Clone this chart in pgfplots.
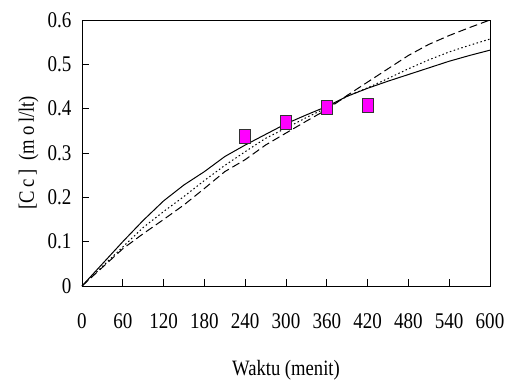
\documentclass[border=0pt]{standalone}
\usepackage{pgfplots}
\pgfplotsset{compat=1.18}
\usepackage{fontspec}
\setmainfont{Liberation Serif}[FakeStretch=0.85]
\definecolor{mag}{RGB}{255,0,255}
\begin{document}
\begin{tikzpicture}
\path[use as bounding box] (-82bp,-95bp) rectangle (430bp,286bp);
\begin{axis}[
  scale only axis, width=408bp, height=266bp,
  xmin=0, xmax=600, ymin=0, ymax=0.6,
  xtick={0,60,...,600}, ytick={0,0.1,...,0.6},
  yticklabels={0,0.1,0.2,0.3,0.4,0.5,0.6},
  tick align=inside, major tick length=7bp,
  xtick pos=bottom, ytick pos=left,
  axis line style={line width=0.9bp},
  tick style={line width=0.9bp, black},
  /pgf/number format/assume math mode=true,
  tick label style={font=\fontsize{22.5}{26}\selectfont},
  xticklabel style={yshift=-24bp},
  yticklabel style={xshift=-7bp},
  label style={font=\fontsize{22}{26}\selectfont},
  xlabel={Waktu (menit)},
  xlabel style={at={(axis description cs:0.5,-0.315)}, anchor=center},
  ylabel={[C\,c\,] \ (m\,o\,l/lt)},
  ylabel style={at={(axis description cs:-0.131,0.5)}, anchor=center},
  clip=false,
]
\addplot[black, line width=1bp] coordinates {
(0,0) (30,0.05) (60,0.1) (90,0.148) (120,0.192) (150,0.228) (180,0.258) (210,0.292) (240,0.318) (270,0.342) (300,0.366) (330,0.386) (360,0.405) (390,0.428) (420,0.446) (450,0.462) (480,0.477) (510,0.492) (540,0.507) (570,0.520) (600,0.532)};
\addplot[black, line width=1bp, dash pattern=on 1.5bp off 2.5bp] coordinates {
(0,0) (30,0.044) (60,0.088) (90,0.132) (120,0.168) (150,0.202) (180,0.238) (210,0.272) (240,0.303) (270,0.333) (300,0.356) (330,0.38) (360,0.402) (390,0.428) (420,0.447) (450,0.468) (480,0.49) (510,0.51) (540,0.528) (570,0.543) (600,0.557)};
\addplot[black, line width=1bp, dash pattern=on 8bp off 4bp] coordinates {
(0,0) (30,0.042) (60,0.084) (90,0.118) (120,0.15) (150,0.183) (180,0.22) (210,0.258) (240,0.285) (270,0.318) (300,0.345) (330,0.372) (360,0.398) (390,0.43) (420,0.46) (450,0.49) (480,0.52) (510,0.545) (540,0.565) (570,0.583) (600,0.6)};
\addplot[only marks, mark=square*, mark size=7bp, mark options={xscale=0.8, fill=mag, draw=black!80, line width=0.9bp}] coordinates {
(240,0.337) (300,0.368) (360,0.403) (420,0.408)};
\end{axis}
\end{tikzpicture}
\end{document}
